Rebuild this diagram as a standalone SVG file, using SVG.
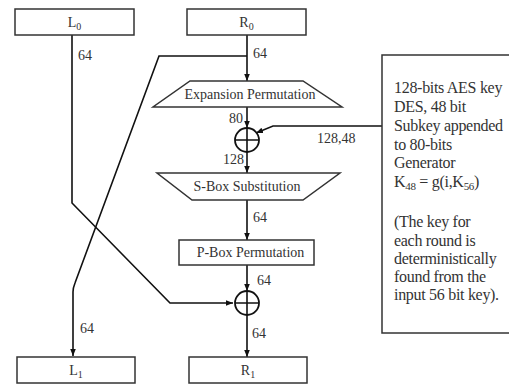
<svg xmlns="http://www.w3.org/2000/svg" width="509" height="384" viewBox="0 0 509 384">
<defs>
<marker id="ah" viewBox="0 0 10 10" refX="10" refY="5" markerWidth="7" markerHeight="7" markerUnits="userSpaceOnUse" orient="auto">
<path d="M0,1 L10,5 L0,9 Z" fill="#111"/>
</marker>
<style>
.box{fill:#fff;stroke:#333;stroke-width:1.5}
.ln{fill:none;stroke:#111;stroke-width:1.6}
.t{font-family:"Liberation Serif","Times New Roman",serif;fill:#333}
.lbl{font-size:14px}
.bt{font-size:14px}
.kt{font-size:16px;letter-spacing:-0.3px}
</style>
</defs>
<rect width="509" height="384" fill="#fff"/>

<g id="connectors">
<path class="ln" d="M72,35 L72,203 L170,303 L233,303" marker-end="url(#ah)"/>
<path class="ln" d="M247,35 L247,81" marker-end="url(#ah)"/>
<path class="ln" d="M247,56 L159,56 L75,283 Q73,288 73,292 L73,356" marker-end="url(#ah)"/>
<path class="ln" d="M247,107 L247,128" marker-end="url(#ah)"/>
<path class="ln" d="M247,152 L247,173" marker-end="url(#ah)"/>
<path class="ln" d="M247,200 L247,240" marker-end="url(#ah)"/>
<path class="ln" d="M247,265 L247,291" marker-end="url(#ah)"/>
<path class="ln" d="M247,315 L247,357" marker-end="url(#ah)"/>
<path class="ln" d="M382,126 L273,126 L256,133" marker-end="url(#ah)"/>
</g>

<g id="L0">
<rect class="box" x="15" y="9" width="119" height="26"/>
<text class="t bt" x="74.5" y="27" text-anchor="middle">L<tspan font-size="10" dy="3">0</tspan></text>
</g>
<g id="R0">
<rect class="box" x="187" y="9" width="119" height="26"/>
<text class="t bt" x="246.5" y="27" text-anchor="middle">R<tspan font-size="10" dy="3">0</tspan></text>
</g>
<g id="expansion">
<polygon class="box" points="190,81 303,81 342,107 153,107"/>
<text class="t bt" x="250" y="99" text-anchor="middle">Expansion Permutation</text>
</g>
<g id="xor1">
<circle cx="247" cy="140" r="12" fill="#fff" stroke="#111" stroke-width="1.8"/>
<path class="ln" d="M235,140 L259,140 M247,128 L247,152"/>
</g>
<g id="sbox">
<polygon class="box" points="157,173 340,173 303,200 192,200"/>
<text class="t bt" x="247" y="191" text-anchor="middle">S-Box Substitution</text>
</g>
<g id="pbox">
<rect class="box" x="179" y="240" width="135" height="25"/>
<text class="t bt" x="250.5" y="257" text-anchor="middle">P-Box Permutation</text>
</g>
<g id="xor2">
<circle cx="247" cy="303" r="12" fill="#fff" stroke="#111" stroke-width="1.8"/>
<path class="ln" d="M235,303 L259,303 M247,291 L247,315"/>
</g>
<g id="L1">
<rect class="box" x="17" y="357" width="118" height="26"/>
<text class="t bt" x="76" y="375" text-anchor="middle">L<tspan font-size="10" dy="3">1</tspan></text>
</g>
<g id="R1">
<rect class="box" x="189" y="357" width="118" height="26"/>
<text class="t bt" x="248" y="375" text-anchor="middle">R<tspan font-size="10" dy="3">1</tspan></text>
</g>

<g id="keybox">
<rect class="box" x="382" y="55" width="140" height="278"/>
<text class="t kt" x="394" y="93">128-bits AES key</text>
<text class="t kt" x="394" y="112">DES, 48 bit</text>
<text class="t kt" x="394" y="131">Subkey appended</text>
<text class="t kt" x="394" y="150">to 80-bits</text>
<text class="t kt" x="394" y="168">Generator</text>
<text class="t kt" x="394" y="187">K<tspan font-size="11" dy="3">48</tspan><tspan dy="-3"> = g(i,K</tspan><tspan font-size="11" dy="3">56</tspan><tspan dy="-3">)</tspan></text>
<text class="t kt" x="394" y="227">(The key for</text>
<text class="t kt" x="394" y="246">each round is</text>
<text class="t kt" x="394" y="264">deterministically</text>
<text class="t kt" x="394" y="282">found from the</text>
<text class="t kt" x="394" y="300">input 56 bit key).</text>
</g>

<g id="labels">
<text class="t lbl" x="78" y="60">64</text>
<text class="t lbl" x="253" y="58">64</text>
<text class="t lbl" x="229" y="123">80</text>
<text class="t lbl" x="223" y="164">128</text>
<text class="t lbl" x="317" y="143">128,48</text>
<text class="t lbl" x="253" y="222">64</text>
<text class="t lbl" x="257" y="285">64</text>
<text class="t lbl" x="252" y="338">64</text>
<text class="t lbl" x="80" y="333">64</text>
</g>
</svg>
